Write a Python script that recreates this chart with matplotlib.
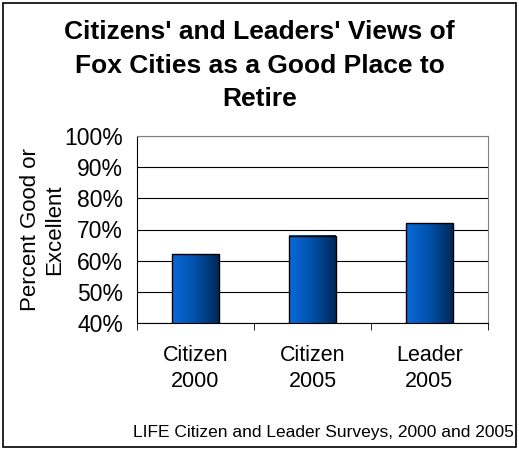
import numpy as np
import matplotlib
matplotlib.use('Agg')
import matplotlib.pyplot as plt
from matplotlib.colors import LinearSegmentedColormap
from matplotlib.patches import Rectangle

plt.rcParams['font.family'] = ['Liberation Sans', 'DejaVu Sans']

# data
categories = ['Citizen\n2000', 'Citizen\n2005', 'Leader\n2005']
values = [62, 68, 72]
yticks = [40, 50, 60, 70, 80, 90, 100]

fig = plt.figure(figsize=(5.19, 4.5), dpi=100)
ax = fig.add_axes([0.264, 0.282, 0.676, 0.416])

x = np.arange(len(categories))
bars = ax.bar(x, values, width=0.4, color='none', edgecolor='black', linewidth=1, zorder=3)

# horizontal gradient inside each bar
cmap = LinearSegmentedColormap.from_list('bl', ['#0a6ad8', '#0050a8', '#002858'])
grad = np.linspace(0, 1, 100).reshape(1, -1)
for b in bars:
    x0, w, h = b.get_x(), b.get_width(), b.get_height()
    ax.imshow(grad, cmap=cmap, aspect='auto', extent=(x0, x0 + w, 40, h),
              zorder=2, interpolation='bilinear')

ax.set_xlim(-0.5, len(categories) - 0.5)
ax.set_ylim(40, 100)
ax.set_yticks(yticks)
ax.set_yticklabels([f'{t}%' for t in yticks], fontsize=16.5)
ax.yaxis.grid(True, color='black', linewidth=0.8, zorder=0)
ax.set_axisbelow(True)
ax.tick_params(axis='y', length=0, pad=10)

# category labels, ticks between categories
ax.set_xticks(x)
ax.set_xticklabels(categories, fontsize=15.5, linespacing=1.3)
ax.tick_params(axis='x', length=0, pad=16)
ax.set_xticks(np.arange(len(categories) + 1) - 0.5, minor=True)
ax.tick_params(axis='x', which='minor', length=5, direction='out', color='black')

for s in ['top', 'right']:
    ax.spines[s].set_color('#808080')
for s in ['left', 'bottom']:
    ax.spines[s].set_color('black')

ax.set_ylabel('Percent Good or\nExcellent', fontsize=16, linespacing=1.2, va='center')
ax.yaxis.set_label_coords(-0.27, 0.5)

fig.text(0.5, 0.854, "Citizens' and Leaders' Views of\nFox Cities as a Good Place to\nRetire",
         ha='center', va='center', fontsize=19, fontweight='bold', linespacing=1.5)
fig.text(0.99, 0.04, 'LIFE Citizen and Leader Surveys, 2000 and 2005',
         ha='right', va='center', fontsize=12.5)

fig.add_artist(Rectangle((0.006, 0.006), 0.988, 0.988, transform=fig.transFigure,
                         fill=False, edgecolor='black', linewidth=1.2))

fig.savefig('out.png', dpi=100)
